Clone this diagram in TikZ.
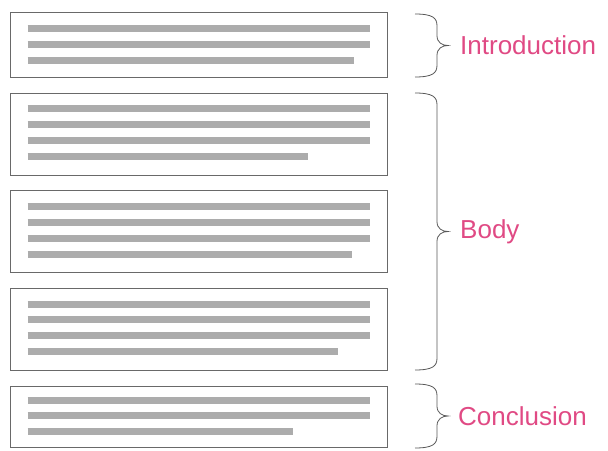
\documentclass[tikz,border=0pt]{standalone}
\usepackage{fontspec}
\setsansfont{Liberation Sans}
\usepackage{xcolor}
\usetikzlibrary{positioning}
\definecolor{partpink}{RGB}{224,74,132}
\definecolor{barfill}{RGB}{172,172,172}
\definecolor{boxedge}{RGB}{105,105,105}
\tikzset{
  parabox/.style={draw=boxedge,line width=0.8pt,minimum width=377pt,inner sep=0pt},
  textbar/.style={draw=barfill,line width=7pt},
  partbrace/.style={draw=black!65,line width=0.8pt},
  partlabel/.style={text=partpink,font=\sffamily\fontsize{26}{26}\selectfont,inner sep=0pt}
}
% curly brace from (#1,#2) down to (#1,#3), tip to the right named #4
\newcommand{\partbrace}[4]{%
  \pgfmathsetmacro\ym{(#2+#3)/2}
  \coordinate (#4) at ({#1+33},\ym);
  \draw[partbrace] (#1,#2) .. controls ({#1+18},#2) and ({#1+22},{#2+4}) .. ({#1+22},{#2+12})
    -- ({#1+22},{\ym-10}) .. controls ({#1+22},{\ym-3}) and ({#1+27},\ym) .. (#4)
    .. controls ({#1+27},\ym) and ({#1+22},{\ym+3}) .. ({#1+22},{\ym+10})
    -- ({#1+22},{#3-12}) .. controls ({#1+22},{#3-4}) and ({#1+18},#3) .. (#1,#3);}

\begin{document}
\begin{tikzpicture}[x=1pt,y=-1pt]
  \useasboundingbox (0,0) rectangle (608,450);
  % paragraph boxes
  \node[parabox,minimum height=65pt] (intro) at (198.5,44.5) {};
  \node[parabox,minimum height=82pt] (bodyA) at (198.5,134) {};
  \node[parabox,minimum height=82pt] (bodyB) at (198.5,231) {};
  \node[parabox,minimum height=82pt] (bodyC) at (198.5,329) {};
  \node[parabox,minimum height=61pt] (concl) at (198.5,416.5) {};
  % text lines
  \foreach \dy/\len in {17/342,33/342,49/326}
    \draw[textbar] (intro.north west) ++(18,\dy) -- ++(\len,0);
  \foreach \dy/\len in {16/342,32/342,48/342,64/280}
    \draw[textbar] (bodyA.north west) ++(18,\dy) -- ++(\len,0);
  \foreach \dy/\len in {17/342,33/342,49/342,65/324}
    \draw[textbar] (bodyB.north west) ++(18,\dy) -- ++(\len,0);
  \foreach \dy/\len in {17/342,32/342,48/342,64/310}
    \draw[textbar] (bodyC.north west) ++(18,\dy) -- ++(\len,0);
  \foreach \dy/\len in {15/342,30/342,46/265}
    \draw[textbar] (concl.north west) ++(18,\dy) -- ++(\len,0);
  % braces
  \partbrace{415}{14}{77}{introtip}
  \partbrace{415}{93}{370}{bodytip}
  \partbrace{415}{384}{448}{concltip}
  % labels
  \node[partlabel,anchor=west,right=12pt of introtip] (introtext) {Introduction};
  \node[partlabel,anchor=west,right=12pt of bodytip] (bodytext) {Body};
  \node[partlabel,anchor=west,right=10pt of concltip] (concltext) {Conclusion};
\end{tikzpicture}
\end{document}
